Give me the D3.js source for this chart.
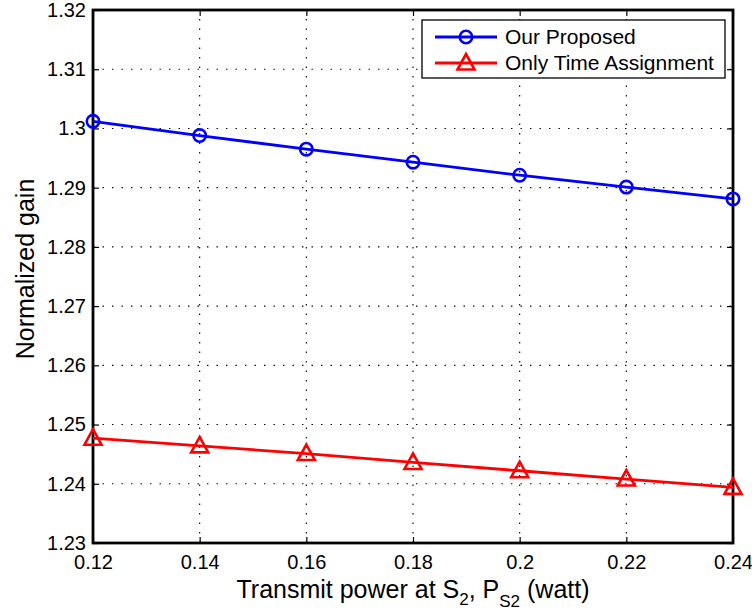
<!DOCTYPE html>
<html>
<head>
<meta charset="utf-8">
<script src="https://cdn.jsdelivr.net/npm/d3@7"></script>
<style>
  html, body { margin: 0; padding: 0; background: #fff; }
  svg { display: block; font-family: "Liberation Sans", Arial, sans-serif; }
</style>
</head>
<body>
<svg id="chart" width="752" height="613"></svg>
<script>
// Transmit power values (watt)
const powers = [0.12, 0.14, 0.16, 0.18, 0.20, 0.22, 0.24];
// Normalized gain of each scheme
const proposed = [1.3012, 1.2988, 1.2965, 1.2943, 1.2921, 1.2901, 1.2881];
const timeOnly = [1.2477, 1.2464, 1.2451, 1.2436, 1.2422, 1.2408, 1.2394];
const seriesNames = ["Our Proposed", "Only Time Assignment"];
const xTicks = [0.12, 0.14, 0.16, 0.18, 0.20, 0.22, 0.24];
const xTickLabels = ["0.12", "0.14", "0.16", "0.18", "0.2", "0.22", "0.24"];
const yTicks = [1.23, 1.24, 1.25, 1.26, 1.27, 1.28, 1.29, 1.30, 1.31, 1.32];
const yTickLabels = ["1.23", "1.24", "1.25", "1.26", "1.27", "1.28", "1.29", "1.3", "1.31", "1.32"];

const svg = d3.select("#chart");
const L = 93, R = 733, T = 10, B = 543;
const x = d3.scaleLinear().domain([0.12, 0.24]).range([L, R]);
const y = d3.scaleLinear().domain([1.23, 1.32]).range([B, T]);
const FONT = "'Liberation Sans', Arial, sans-serif";

// dotted grid
const grid = svg.append("g").attr("stroke", "#000").attr("stroke-width", 1.1)
  .attr("stroke-dasharray", "1.4,8.1");
grid.selectAll(".gx").data(xTicks.slice(1, -1)).join("line")
  .attr("x1", d => x(d)).attr("x2", d => x(d)).attr("y1", B).attr("y2", T);
grid.selectAll(".gy").data(yTicks.slice(1, -1)).join("line")
  .attr("x1", L).attr("x2", R).attr("y1", d => y(d)).attr("y2", d => y(d));

// axes with inward ticks on all four sides
const tk = 6;
const xb = d3.axisBottom(x).tickValues(xTicks).tickFormat((d, i) => xTickLabels[i]).tickSizeInner(-tk).tickSizeOuter(0).tickPadding(12);
const yl = d3.axisLeft(y).tickValues(yTicks).tickFormat((d, i) => yTickLabels[i]).tickSizeInner(-tk).tickSizeOuter(0).tickPadding(7);
const xt = d3.axisTop(x).tickValues(xTicks).tickFormat("").tickSizeInner(-tk).tickSizeOuter(0);
const yr = d3.axisRight(y).tickValues(yTicks).tickFormat("").tickSizeInner(-tk).tickSizeOuter(0);

function styleAxis(g) {
  g.selectAll("path").remove();
  g.selectAll("line").attr("stroke", "#000").attr("stroke-width", 1.2);
  g.selectAll("text").attr("fill", "#000").style("font-size", "20px").style("font-family", FONT);
}
svg.append("g").attr("transform", `translate(0,${B})`).call(xb).call(styleAxis);
svg.append("g").attr("transform", `translate(${L},0)`).call(yl).call(styleAxis);
svg.append("g").attr("transform", `translate(0,${T})`).call(xt).call(styleAxis);
svg.append("g").attr("transform", `translate(${R},0)`).call(yr).call(styleAxis);

// box
svg.append("rect").attr("x", L).attr("y", T).attr("width", R - L).attr("height", B - T)
  .attr("fill", "none").attr("stroke", "#000").attr("stroke-width", 2.8);

// series
const line = d3.line().x((d, i) => x(powers[i])).y(d => y(d));
const colors = ["#0000ff", "#ff0000"];
const triPath = "M0,-9 L8.5,6.5 L-8.5,6.5 Z";

svg.append("path").datum(proposed).attr("d", line).attr("fill", "none")
  .attr("stroke", colors[0]).attr("stroke-width", 2.8);
svg.selectAll(".mk1").data(proposed).join("circle")
  .attr("cx", (d, i) => x(powers[i])).attr("cy", d => y(d)).attr("r", 6.2)
  .attr("fill", "none").attr("stroke", colors[0]).attr("stroke-width", 2.6);

svg.append("path").datum(timeOnly).attr("d", line).attr("fill", "none")
  .attr("stroke", colors[1]).attr("stroke-width", 2.8);
svg.selectAll(".mk2").data(timeOnly).join("path")
  .attr("transform", (d, i) => `translate(${x(powers[i])},${y(d)})`)
  .attr("d", triPath).attr("fill", "none")
  .attr("stroke", colors[1]).attr("stroke-width", 2.6);

// legend
const lg = svg.append("g");
lg.append("rect").attr("x", 422).attr("y", 20).attr("width", 303).attr("height", 58)
  .attr("fill", "#fff").attr("stroke", "#000").attr("stroke-width", 1.3);
const rows = [37, 63];
rows.forEach((ry, k) => {
  lg.append("line").attr("x1", 435).attr("x2", 497).attr("y1", ry).attr("y2", ry)
    .attr("stroke", colors[k]).attr("stroke-width", 2.8);
  if (k === 0) {
    lg.append("circle").attr("cx", 466).attr("cy", ry).attr("r", 6.2)
      .attr("fill", "none").attr("stroke", colors[k]).attr("stroke-width", 2.6);
  } else {
    lg.append("path").attr("transform", `translate(466,${ry})`).attr("d", triPath)
      .attr("fill", "none").attr("stroke", colors[k]).attr("stroke-width", 2.6);
  }
  lg.append("text").attr("x", 505).attr("y", ry + 7).text(seriesNames[k])
    .style("font-size", "21px").style("font-family", FONT).attr("fill", "#000");
});

// axis titles
const xl = svg.append("text").attr("x", 413).attr("y", 598).attr("text-anchor", "middle")
  .style("font-size", "25px").style("font-family", FONT).attr("fill", "#000");
xl.append("tspan").text("Transmit power at S");
xl.append("tspan").attr("dy", 7).style("font-size", "17px").text("2");
xl.append("tspan").attr("dy", -7).text(", P");
xl.append("tspan").attr("dy", 9).style("font-size", "17px").text("S2");
xl.append("tspan").attr("dy", -9).text(" (watt)");

svg.append("text").attr("transform", "translate(34,269) rotate(-90)")
  .attr("text-anchor", "middle").style("font-size", "25px").style("font-family", FONT).attr("fill", "#000")
  .text("Normalized gain");
</script>
</body>
</html>
